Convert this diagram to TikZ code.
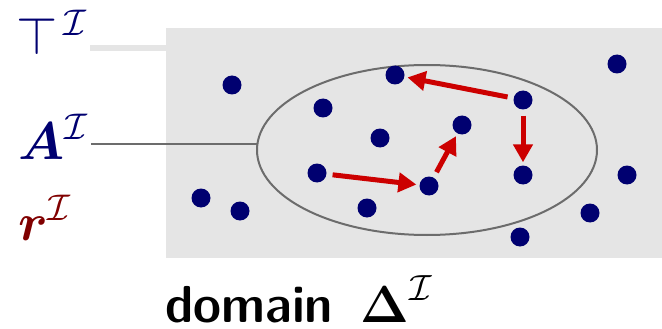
\RequirePackage{fix-cm}
\documentclass[tikz,border=0pt]{standalone}
\usepackage{amsmath, amssymb, bm}
\usepackage{fontspec}
\usetikzlibrary{arrows.meta}
\usetikzlibrary{shapes.geometric}
\newfontfamily\demisans[FakeStretch=1.13]{Latin Modern Sans Demi Cond}
\definecolor{navy}{RGB}{0,0,112}
\definecolor{rolered}{RGB}{204,0,0}
\definecolor{darkred}{RGB}{128,0,0}
\definecolor{boxgray}{RGB}{229,229,229}
\tikzset{
        % Domain elements
        elem/.style={circle, fill=navy, inner sep=0pt, minimum size=19pt},
        % Role edges
        role/.style={-{Triangle[length=18pt,width=19pt]}, line width=5pt, draw=rolered, shorten <=6pt, shorten >=3pt},
        % Labels on the left
        lbl/.style={inner sep=0pt, anchor=base west, font=\fontsize{53}{60}\selectfont},
        % Leader lines from the labels
        leader/.style={draw=gray!85!black, line width=2pt}
}

\begin{document}
\begin{tikzpicture}[x=1pt, y=-1pt]
            \useasboundingbox (0,0) rectangle (662,329);
            % the domain and the concept
            \fill[boxgray] (166,28) rectangle (662,258);
            \node[draw=gray!85!black, line width=2pt, ellipse, minimum width=340pt, minimum height=170pt, inner sep=0pt] (concept) at (427,150) {};
            \coordinate (domainleft) at (166,48);
            \coordinate (conceptedge) at (257,144);
            % labels
            \node[lbl, text=navy] (toplbl) at (16,55) {$\top^{\,\mathcal{I}}$};
            \node[lbl, text=navy] (conceptlbl) at (18,159) {$\bm{A}^{\mathcal{I}}$};
            \node[lbl, text=darkred] (rolelbl) at (18,240) {$\bm{r}^{\mathcal{I}}$};
            \node[lbl, font=\fontsize{52}{60}\selectfont\demisans] (domainlbl) at (165,322) {domain\, $\bm{\Delta}^{\mathcal{I}}$};
            \draw[draw=boxgray, line width=6pt] ([xshift=3pt]toplbl.east |- domainleft) -- (domainleft);
            \draw[leader] ([xshift=3pt]conceptlbl.east |- conceptedge) -- (conceptedge);
            % elements
            \node[elem] (e1) at (232,85) {};
            \node[elem] (e2) at (395,75) {};
            \node[elem] (e3) at (617,64) {};
            \node[elem] (e4) at (323,108) {};
            \node[elem] (e5) at (523,100) {};
            \node[elem] (e6) at (380,138) {};
            \node[elem] (e7) at (462,125) {};
            \node[elem] (e8) at (317,173) {};
            \node[elem] (e9) at (429,186) {};
            \node[elem] (e10) at (523,175) {};
            \node[elem] (e11) at (627,175) {};
            \node[elem] (e12) at (201,198) {};
            \node[elem] (e13) at (240,211) {};
            \node[elem] (e14) at (367,208) {};
            \node[elem] (e15) at (590,213) {};
            \node[elem] (e16) at (520,237) {};
            % role pairs
            \draw[role] (e5) -- (e2);
            \draw[role] (e5) -- (e10);
            \draw[role] (e8) -- (e9);
            \draw[role] (e9) -- (e7);
\end{tikzpicture}
\end{document}
